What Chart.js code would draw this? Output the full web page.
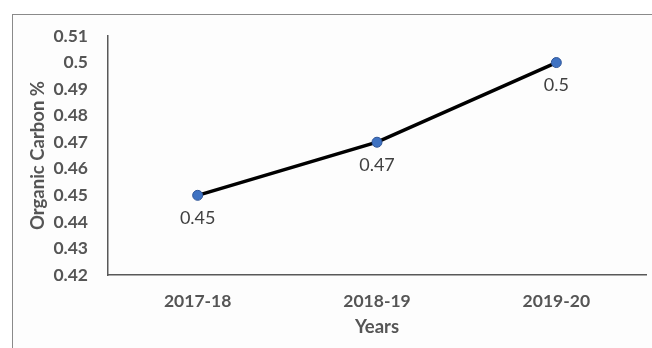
<!DOCTYPE html>
<html>
<head>
<meta charset="utf-8">
<script src="https://cdn.jsdelivr.net/npm/chart.js@4"></script>
<style>
  html, body { margin: 0; padding: 0; background: #ffffff; }
  #wrap { position: relative; width: 652px; height: 348px; overflow: hidden; }
  #frame { position: absolute; left: 12px; top: 14px; width: 660px; height: 360px;
           border-left: 1px solid #8a8a8a; border-top: 1px solid #8a8a8a; background: #fdfdfd; }
  canvas { position: absolute; left: 0; top: 0; }
</style>
</head>
<body>
<div id="wrap">
  <div id="frame"></div>
  <canvas id="c" width="652" height="348"></canvas>
</div>
<script>
const categories = ['2017-18', '2018-19', '2019-20'];
const organicCarbon = [0.45, 0.47, 0.50];
const yTickValues = [0.42, 0.43, 0.44, 0.45, 0.46, 0.47, 0.48, 0.49, 0.5, 0.51];
const yAxisTitle = 'Organic Carbon %';
const xAxisTitle = 'Years';

const FONT = 'Lato, "Open Sans", sans-serif';

const valueLabels = {
  id: 'valueLabels',
  afterDatasetsDraw(chart) {
    const ctx = chart.ctx;
    const meta = chart.getDatasetMeta(0);
    ctx.save();
    ctx.font = '18px ' + FONT;
    ctx.fillStyle = '#404040';
    ctx.textAlign = 'center';
    ctx.textBaseline = 'middle';
    meta.data.forEach((pt, i) => {
      ctx.fillText(String(organicCarbon[i]), pt.x, pt.y + 23);
    });
    ctx.restore();
  }
};

new Chart(document.getElementById('c'), {
  type: 'line',
  data: {
    labels: categories,
    datasets: [{
      data: organicCarbon,
      borderColor: '#000000',
      borderWidth: 3.5,
      pointRadius: 5,
      pointBackgroundColor: '#3f72c2',
      pointBorderColor: '#2f5597',
      pointBorderWidth: 1,
      tension: 0,
      clip: false
    }]
  },
  options: {
    responsive: false,
    animation: false,
    events: [],
    layout: { padding: { left: 12, top: 36, right: 0, bottom: 0 } },
    plugins: { legend: { display: false }, tooltip: { enabled: false } },
    scales: {
      x: {
        type: 'category',
        offset: true,
        grid: { display: false, drawTicks: false },
        border: { display: true, color: '#595959', width: 1.5 },
        ticks: { color: '#555555', font: { family: FONT, size: 17.5, weight: 'bold' }, padding: 16, maxRotation: 0 },
        title: { display: true, text: xAxisTitle, color: '#555555',
                 font: { family: FONT, size: 18.5, weight: 'bold' }, padding: { top: 0, bottom: 10 } },
        afterFit(s) { s.height = 348 - 275; }
      },
      y: {
        min: 0.42,
        max: 0.51,
        grid: { display: false, drawTicks: false },
        border: { display: true, color: '#595959', width: 1.5 },
        afterBuildTicks(s) { s.ticks = yTickValues.map(v => ({ value: v })); },
        ticks: {
          color: '#555555',
          font: { family: FONT, size: 17.5, weight: 'bold' },
          padding: 20,
          callback: (v) => String(Math.round(v * 100) / 100)
        },
        title: { display: true, text: yAxisTitle, color: '#555555',
                 font: { family: FONT, size: 18.5, weight: 'bold' }, padding: { top: 15, bottom: 0 } },
        afterFit(s) { s.width = 108 - 12; }
      }
    }
  },
  plugins: [valueLabels]
});
</script>
</body>
</html>
